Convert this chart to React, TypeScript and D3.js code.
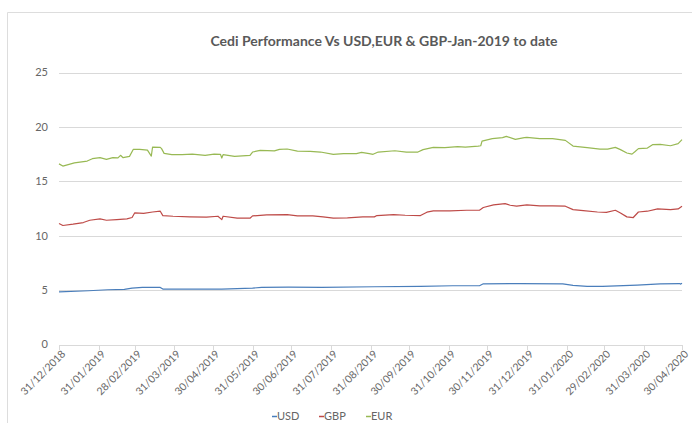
import React from 'react'
import * as d3 from 'd3'

// month-end tick labels on the x axis
const tickLabels = [
    '31/12/2018', '31/01/2019', '28/02/2019', '31/03/2019', '30/04/2019',
    '31/05/2019', '30/06/2019', '31/07/2019', '31/08/2019', '30/09/2019',
    '31/10/2019', '30/11/2019', '31/12/2019', '31/01/2020', '29/02/2020',
    '31/03/2020', '30/04/2020',
]
const yTicks = [0, 5, 10, 15, 20, 25]

const usd: [string, number][] = [
    ['2018-12-31', 4.84], ['2019-01-23', 4.94], ['2019-02-07', 5.03], ['2019-02-20', 5.06],
    ['2019-02-26', 5.18], ['2019-03-06', 5.25], ['2019-03-20', 5.25], ['2019-03-22', 5.09],
    ['2019-04-11', 5.09], ['2019-05-07', 5.09], ['2019-05-31', 5.18], ['2019-06-07', 5.25],
    ['2019-06-28', 5.28], ['2019-07-24', 5.25], ['2019-09-03', 5.31], ['2019-10-09', 5.34],
    ['2019-11-03', 5.4], ['2019-11-24', 5.4], ['2019-11-27', 5.58], ['2019-12-26', 5.6],
    ['2020-01-28', 5.58], ['2020-02-05', 5.43], ['2020-02-16', 5.34], ['2020-02-28', 5.34],
    ['2020-03-26', 5.46], ['2020-04-13', 5.58], ['2020-04-28', 5.6], ['2020-04-29', 5.55],
    ['2020-04-30', 5.63],
]

const gbp: [string, number][] = [
    ['2018-12-31', 11.12], ['2019-01-03', 10.94], ['2019-01-11', 11.06], ['2019-01-19', 11.21],
    ['2019-01-24', 11.42], ['2019-02-01', 11.54], ['2019-02-06', 11.42], ['2019-02-14', 11.48],
    ['2019-02-22', 11.54], ['2019-02-26', 11.67], ['2019-02-28', 12.09], ['2019-03-07', 12.06],
    ['2019-03-14', 12.18], ['2019-03-20', 12.25], ['2019-03-22', 11.85], ['2019-03-30', 11.79],
    ['2019-04-12', 11.73], ['2019-04-25', 11.7], ['2019-05-04', 11.79], ['2019-05-07', 11.48],
    ['2019-05-08', 11.79], ['2019-05-19', 11.61], ['2019-05-29', 11.61], ['2019-05-31', 11.82],
    ['2019-06-11', 11.91], ['2019-06-27', 11.94], ['2019-07-05', 11.82], ['2019-07-17', 11.82],
    ['2019-07-25', 11.73], ['2019-08-02', 11.61], ['2019-08-13', 11.64], ['2019-08-25', 11.73],
    ['2019-09-03', 11.73], ['2019-09-05', 11.85], ['2019-09-18', 11.94], ['2019-09-27', 11.88],
    ['2019-10-09', 11.85], ['2019-10-14', 12.16], ['2019-10-19', 12.28], ['2019-11-01', 12.28],
    ['2019-11-14', 12.34], ['2019-11-24', 12.34], ['2019-11-27', 12.59], ['2019-12-05', 12.83],
    ['2019-12-14', 12.95], ['2019-12-18', 12.8], ['2019-12-23', 12.71], ['2019-12-31', 12.83],
    ['2020-01-10', 12.74], ['2020-01-20', 12.74], ['2020-01-30', 12.71], ['2020-02-05', 12.4],
    ['2020-02-13', 12.31], ['2020-02-24', 12.18], ['2020-03-02', 12.15], ['2020-03-09', 12.34],
    ['2020-03-13', 12.09], ['2020-03-18', 11.73], ['2020-03-23', 11.67], ['2020-03-27', 12.18],
    ['2020-04-03', 12.25], ['2020-04-11', 12.46], ['2020-04-21', 12.4], ['2020-04-27', 12.46],
    ['2020-04-30', 12.71],
]

const eur: [string, number][] = [
    ['2018-12-31', 16.6], ['2019-01-03', 16.4], ['2019-01-12', 16.7], ['2019-01-22', 16.86],
    ['2019-01-26', 17.08], ['2019-02-01', 17.17], ['2019-02-06', 17.02], ['2019-02-11', 17.17],
    ['2019-02-15', 17.15], ['2019-02-17', 17.39], ['2019-02-19', 17.17], ['2019-02-24', 17.29],
    ['2019-02-27', 17.94], ['2019-03-04', 17.94], ['2019-03-10', 17.87], ['2019-03-13', 17.32],
    ['2019-03-14', 18.15], ['2019-03-20', 18.12], ['2019-03-21', 18.0], ['2019-03-23', 17.57],
    ['2019-03-29', 17.45], ['2019-04-06', 17.45], ['2019-04-14', 17.5], ['2019-04-24', 17.39],
    ['2019-05-01', 17.5], ['2019-05-06', 17.47], ['2019-05-07', 17.14], ['2019-05-08', 17.45],
    ['2019-05-17', 17.29], ['2019-05-29', 17.39], ['2019-05-31', 17.69], ['2019-06-06', 17.84],
    ['2019-06-17', 17.79], ['2019-06-21', 17.94], ['2019-06-27', 17.97], ['2019-07-05', 17.78],
    ['2019-07-15', 17.75], ['2019-07-23', 17.69], ['2019-08-02', 17.48], ['2019-08-10', 17.54],
    ['2019-08-20', 17.54], ['2019-08-24', 17.66], ['2019-08-30', 17.54], ['2019-09-02', 17.48],
    ['2019-09-06', 17.69], ['2019-09-19', 17.81], ['2019-09-28', 17.69], ['2019-10-07', 17.69],
    ['2019-10-11', 17.91], ['2019-10-19', 18.12], ['2019-10-28', 18.09], ['2019-11-07', 18.18],
    ['2019-11-13', 18.15], ['2019-11-23', 18.24], ['2019-11-25', 18.27], ['2019-11-26', 18.7],
    ['2019-12-04', 18.92], ['2019-12-12', 19.01], ['2019-12-15', 19.13], ['2019-12-22', 18.85],
    ['2019-12-29', 19.01], ['2019-12-31', 19.04], ['2020-01-10', 18.92], ['2020-01-20', 18.92],
    ['2020-01-30', 18.76], ['2020-02-05', 18.24], ['2020-02-16', 18.09], ['2020-02-26', 17.96],
    ['2020-03-03', 17.96], ['2020-03-09', 18.12], ['2020-03-13', 17.91], ['2020-03-18', 17.6],
    ['2020-03-22', 17.5], ['2020-03-24', 17.69], ['2020-03-27', 18.0], ['2020-04-03', 18.05],
    ['2020-04-07', 18.37], ['2020-04-13', 18.4], ['2020-04-21', 18.27], ['2020-04-27', 18.46],
    ['2020-04-30', 18.83],
]

const seriesNames = ['USD', 'GBP', 'EUR']
const seriesData = [usd, gbp, eur]
const colors = ['#4a7ebb', '#be4b48', '#98b954']

const W = 692
const H = 423
const font = 'Lato, "Open Sans", sans-serif'

const parseDay = d3.timeParse('%Y-%m-%d')
const parseTick = d3.timeParse('%d/%m/%Y')

export default function App() {
    const tickDates = tickLabels.map(t => parseTick(t) as Date)
    const x = d3
        .scaleTime()
        .domain([tickDates[0], tickDates[tickDates.length - 1]])
        .range([59, 682])
    const y = d3.scaleLinear().domain([0, 25]).range([344.5, 72.5])

    const line = d3
        .line<[string, number]>()
        .x(d => x(parseDay(d[0]) as Date))
        .y(d => y(d[1]))

    return (
        <svg
            width={W}
            height={H}
            style={{ position: 'absolute', left: 0, top: 0, background: '#fff' }}
            fontFamily={font}
        >
            {/* card frame */}
            <path d={`M7.5,${H} V12.5 H${W}`} fill='none' stroke='#dddddd' />

            <text
                x={384}
                y={46}
                textAnchor='middle'
                fontSize={14}
                fontWeight='bold'
                fill='#595959'
            >
                Cedi Performance Vs USD,EUR &amp; GBP-Jan-2019 to date
            </text>

            {/* grid + y labels */}
            {yTicks.map(t => (
                <g key={t}>
                    <line
                        x1={59}
                        x2={682}
                        y1={Math.round(y(t)) + 0.5}
                        y2={Math.round(y(t)) + 0.5}
                        stroke='#d9d9d9'
                    />
                    <text
                        x={48}
                        y={y(t)}
                        dy='0.35em'
                        textAnchor='end'
                        fontSize={11}
                        fill='#666666'
                    >
                        {t}
                    </text>
                </g>
            ))}

            {/* x ticks */}
            {tickDates.map((d, i) => {
                const tx = Math.round(x(d)) + 0.5
                return (
                    <g key={tickLabels[i]}>
                        <line x1={tx} x2={tx} y1={345} y2={350} stroke='#d9d9d9' />
                        <text
                            transform={`translate(${tx + 4},${352}) rotate(-45)`}
                            textAnchor='end'
                            dy='0.35em'
                            fontSize={10.5}
                            fill='#666666'
                        >
                            {tickLabels[i]}
                        </text>
                    </g>
                )
            })}

            {/* series */}
            {seriesData.map((s, i) => (
                <path
                    key={seriesNames[i]}
                    d={line(s) || ''}
                    fill='none'
                    stroke={colors[i]}
                    strokeWidth={1.2}
                    strokeLinejoin='round'
                />
            ))}

            {/* legend */}
            {seriesNames.map((n, i) => (
                <g key={n} transform={`translate(${272 + i * 47},416)`}>
                    <line x1={0} x2={5} y1={0.5} y2={0.5} stroke={colors[i]} strokeWidth={1.5} />
                    <text x={5} y={0} dy='0.35em' fontSize={11} fill='#666666'>
                        {n}
                    </text>
                </g>
            ))}
        </svg>
    )
}
